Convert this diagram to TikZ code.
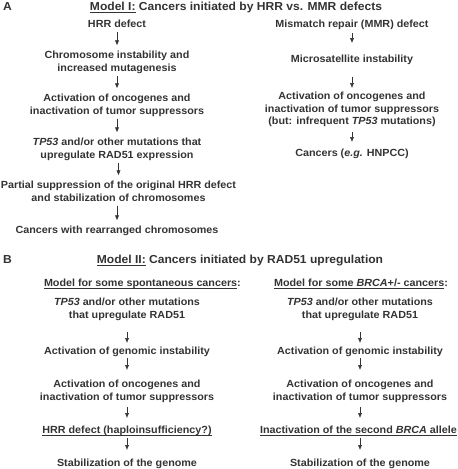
\documentclass[tikz,border=0pt]{standalone}
\usepackage{fontspec}
\setmainfont{Liberation Sans}[FakeStretch=1.04]
\usetikzlibrary{arrows.meta}
\definecolor{ink}{HTML}{333333}
\newcommand{\st}{\rule[-2.2pt]{0pt}{9.7pt}}
\newsavebox{\ulbox}
\newcommand{\ulin}[1]{\sbox{\ulbox}{#1}\rlap{\rule[-2.3pt]{\wd\ulbox}{0.8pt}}\usebox{\ulbox}}
\begin{document}
\begin{tikzpicture}[x=1pt,y=-1pt,
  txt/.style={font=\fontsize{10.35}{12.5}\selectfont\bfseries, text=ink, inner sep=0pt, outer sep=0pt, align=center, anchor=north, execute at begin node=\st, execute at end node=\st},
  sub/.style={font=\fontsize{10.35}{12.5}\selectfont\bfseries, text=ink, inner sep=0pt, outer sep=0pt},
  ttl/.style={font=\fontsize{11.6}{13}\selectfont\bfseries, text=ink, inner sep=0pt, outer sep=0pt, anchor=base},
  arr/.style={draw=ink, line width=0.6pt, -{Latex[length=5pt,width=4.2pt]}}]
\useasboundingbox (0,0) rectangle (458,469);
% titles
\node[ttl, anchor=base west] (la) at (3,10) {A};
\node[ttl] (ta) at (236,10) {\ulin{Model I:} Cancers initiated by HRR vs. MMR defects};
\node[ttl, anchor=base west] (lb) at (3,263.5) {B};
\node[ttl] (tb) at (240,263.5) {\ulin{Model II:} Cancers initiated by RAD51 upregulation};
% A left
\node[txt] (a1) at (117,20.1) {HRR defect};
\node[txt] (a2) at (117,51.1) {Chromosome instability and\\increased mutagenesis};
\node[txt] (a3) at (117,94.1) {Activation of oncogenes and\\inactivation of tumor suppressors};
\node[txt] (a4) at (117,138.1) {\textit{TP53} and/or other mutations that\\upregulate RAD51 expression};
\node[txt] (a5) at (118.5,181.1) {Partial suppression of the original HRR defect\\and stabilization of chromosomes};
\node[txt] (a6) at (117,226.1) {Cancers with rearranged chromosomes};
\foreach \p/\q in {a1/a2,a2/a3,a3/a4,a4/a5,a5/a6}
  \draw[arr, shorten <=2.3pt, shorten >=5.7pt] (\q.north |- \p.south) -- (\q.north);
% A right
\node[txt] (r1) at (352,20.1) {Mismatch repair (MMR) defect};
\node[txt] (r2) at (352,55.1) {Microsatellite instability};
\node[txt] (r3) at (352,92.1) {Activation of oncogenes and\\inactivation of tumor suppressors\\(but: infrequent \textit{TP53} mutations)};
\node[txt] (r4) at (352,149.1) {Cancers (\textit{e.g.} HNPCC)};
\draw[arr, shorten <=3.2pt, shorten >=12pt] (r1.south) -- (r2.north);
\draw[arr, shorten <=12pt, shorten >=4.1pt] (r2.south) -- (r3.north);
\draw[arr, shorten <=5.2pt, shorten >=7.1pt] (r3.south) -- (r4.north);
% B subtitles
\node[sub, anchor=base west] (ls) at (44,286.6) {\ulin{Model for some spontaneous cancers}:};
\node[sub, anchor=base] (rs) at (361,286.6) {\ulin{Model for some \textit{BRCA}+/- cancers}:};
% B left
\node[txt] (l1) at (127,298.1) {\textit{TP53} and/or other mutations\\that upregulate RAD51};
\node[txt] (l2) at (127,347.1) {Activation of genomic instability};
\node[txt] (l3) at (127,380.1) {Activation of oncogenes and\\inactivation of tumor suppressors};
\node[txt] (l4) at (127,426.1) {\ulin{HRR defect (haploinsufficiency?)}};
\node[txt] (l5) at (127,459.1) {Stabilization of the genome};
% B right
\node[txt] (m1) at (360,298.1) {\textit{TP53} and/or other mutations\\that upregulate RAD51};
\node[txt] (m2) at (360,347.1) {Activation of genomic instability};
\node[txt] (m3) at (360,380.1) {Activation of oncogenes and\\inactivation of tumor suppressors};
\node[txt] (m4) at (358.5,426.1) {\ulin{Inactivation of the second \textit{BRCA} allele}};
\node[txt] (m5) at (360,459.1) {Stabilization of the genome};
\foreach \c in {l,m}{
  \draw[arr, shorten <=11.7pt, shorten >=4.1pt] (\c2.north |- \c1.south) -- (\c2.north);
  \draw[arr, shorten <=1.2pt, shorten >=10.1pt] (\c3.north |- \c2.south) -- (\c3.north);
  \draw[arr, shorten <=4.7pt, shorten >=8.1pt] (\c5.north |- \c3.south) -- (\c5.north |- \c4.north);
  \draw[arr, shorten <=2.2pt, shorten >=9.1pt] (\c5.north |- \c4.south) -- (\c5.north);
}
\end{tikzpicture}
\end{document}
